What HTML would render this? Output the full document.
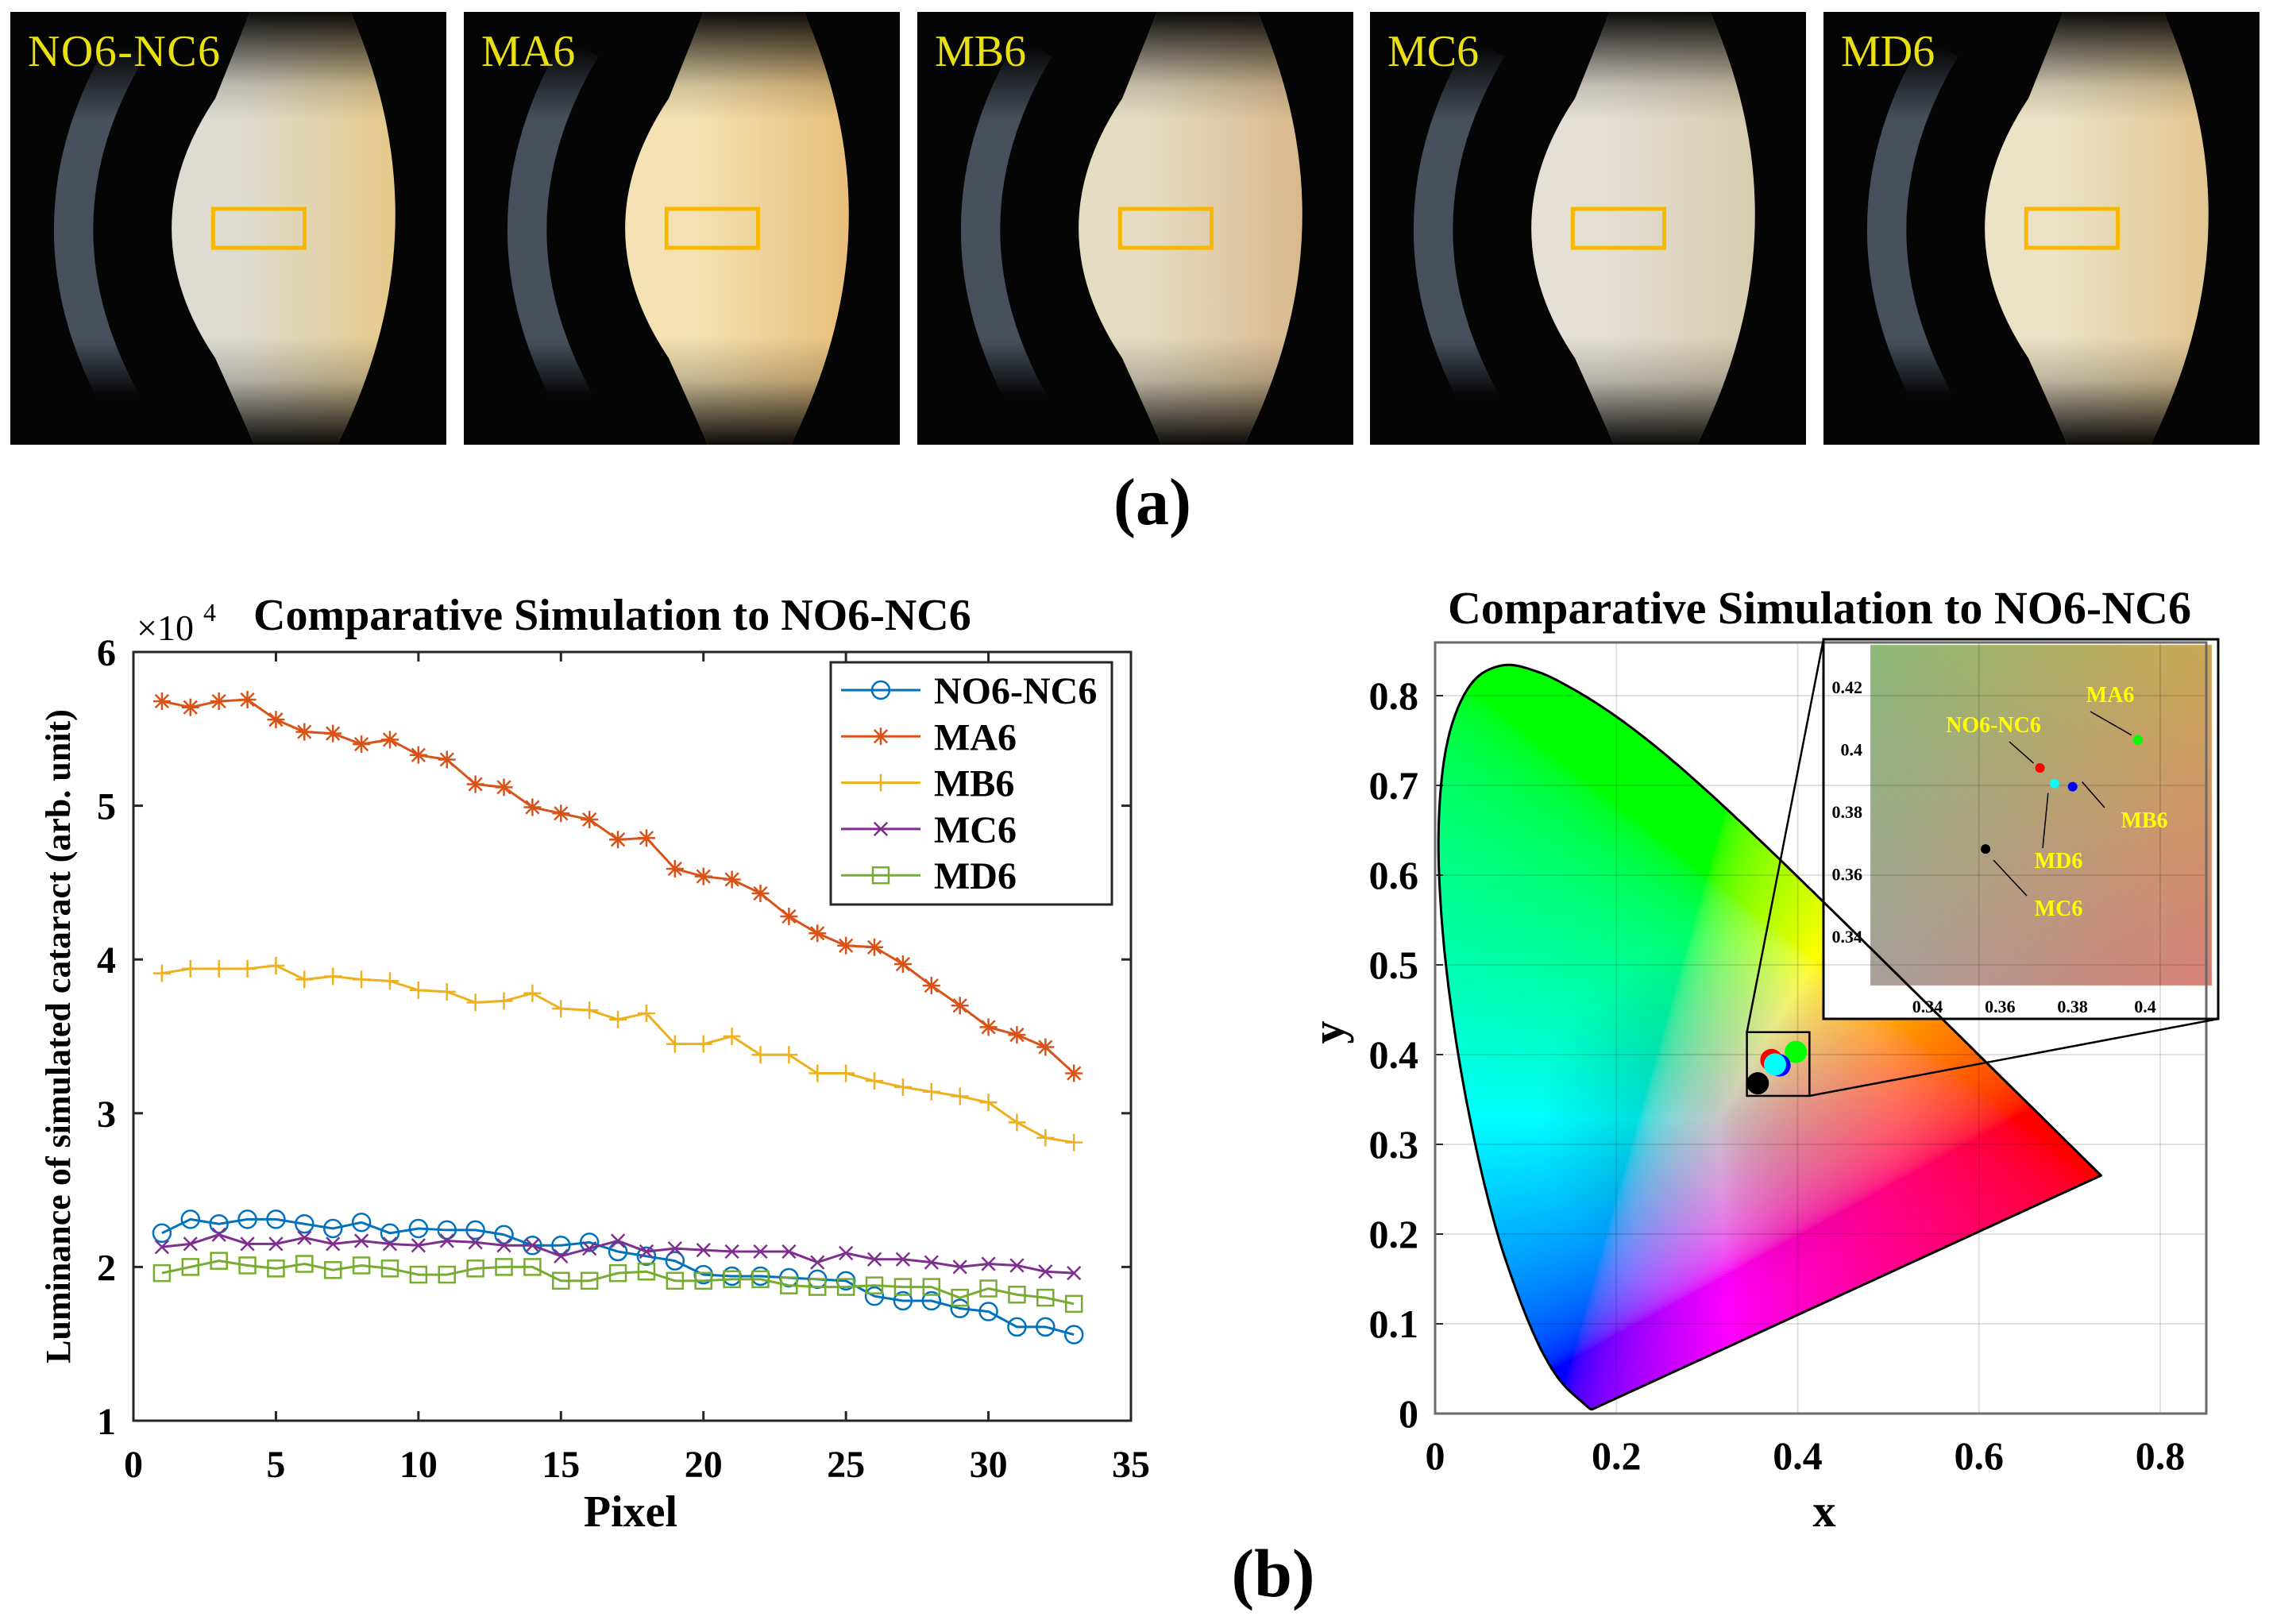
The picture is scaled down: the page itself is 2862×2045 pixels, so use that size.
<!DOCTYPE html>
<html><head><meta charset="utf-8">
<style>
html,body{margin:0;padding:0;background:#fff;}
#wrap{position:relative;width:2862px;height:2045px;overflow:hidden;background:#fff;}
canvas,svg{position:absolute;left:0;top:0;}
text{font-family:"Liberation Serif",serif;font-weight:bold;}
text.nb{font-weight:normal;}
</style></head>
<body>
<div id="wrap">
<canvas id="cv" width="2862" height="2045"></canvas>
<svg id="sv" width="2862" height="2045" xmlns="http://www.w3.org/2000/svg"></svg>
</div>
<script>
// ---- line chart data ----
const pixels = Array.from({length:33},(_,i)=>i+1);
const seriesNames = ["NO6-NC6","MA6","MB6","MC6","MD6"];
const no6 = [2.22,2.31,2.28,2.31,2.31,2.28,2.25,2.29,2.22,2.25,2.24,2.24,2.21,2.14,2.14,2.16,2.10,2.07,2.04,1.95,1.94,1.94,1.93,1.92,1.91,1.81,1.78,1.78,1.73,1.71,1.61,1.61,1.56];
const ma6 = [5.68,5.64,5.68,5.69,5.56,5.48,5.47,5.40,5.43,5.33,5.30,5.14,5.12,4.99,4.95,4.91,4.78,4.79,4.59,4.54,4.52,4.43,4.28,4.17,4.09,4.08,3.97,3.83,3.70,3.56,3.51,3.43,3.26];
const mb6 = [3.91,3.94,3.94,3.94,3.96,3.87,3.89,3.87,3.86,3.80,3.79,3.72,3.73,3.78,3.68,3.67,3.61,3.65,3.45,3.45,3.50,3.38,3.38,3.26,3.26,3.21,3.17,3.14,3.11,3.07,2.94,2.84,2.81];
const mc6 = [2.13,2.15,2.21,2.15,2.15,2.19,2.15,2.17,2.15,2.14,2.17,2.16,2.14,2.14,2.07,2.12,2.17,2.10,2.12,2.11,2.10,2.10,2.10,2.03,2.09,2.05,2.05,2.03,2.00,2.02,2.01,1.97,1.96];
const md6 = [1.96,2.00,2.04,2.01,1.99,2.02,1.98,2.01,1.99,1.95,1.95,1.99,2.00,2.00,1.91,1.91,1.96,1.97,1.91,1.91,1.92,1.92,1.88,1.87,1.87,1.88,1.87,1.87,1.80,1.86,1.82,1.80,1.76];
const xTicksL = [0,5,10,15,20,25,30,35];
const yTicksL = [1,2,3,4,5,6];
// ---- chromaticity data ----
const pointNames = ["MC6","NO6-NC6","MD6","MB6","MA6"];
const pointX = [0.356,0.371,0.375,0.380,0.398];
const pointY = [0.368,0.394,0.389,0.388,0.403];
const xTicksR = [0,0.2,0.4,0.6,0.8];
const yTicksR = [0,0.1,0.2,0.3,0.4,0.5,0.6,0.7,0.8];
const insetXTicks = [0.34,0.36,0.38,0.4];
const insetYTicks = [0.34,0.36,0.38,0.4,0.42];
const locusX = [0.1741,0.1740,0.1738,0.1736,0.1733,0.1730,0.1726,0.1721,0.1714,0.1703,0.1689,0.1669,0.1644,0.1611,0.1566,0.1510,0.1440,0.1355,0.1241,0.1096,0.0913,0.0687,0.0454,0.0235,0.0082,0.0039,0.0139,0.0389,0.0743,0.1142,0.1547,0.1929,0.2296,0.2658,0.3016,0.3373,0.3731,0.4087,0.4441,0.4788,0.5125,0.5448,0.5752,0.6029,0.6270,0.6482,0.6658,0.6801,0.6915,0.7079,0.7190,0.7260,0.7300,0.7334,0.7347];
const locusY = [0.0050,0.0050,0.0049,0.0049,0.0048,0.0048,0.0048,0.0048,0.0051,0.0058,0.0069,0.0086,0.0109,0.0138,0.0177,0.0227,0.0297,0.0399,0.0578,0.0868,0.1327,0.2007,0.2950,0.4127,0.5384,0.6548,0.7502,0.8120,0.8338,0.8262,0.8059,0.7816,0.7543,0.7243,0.6923,0.6589,0.6245,0.5896,0.5547,0.5202,0.4866,0.4544,0.4242,0.3965,0.3725,0.3514,0.3340,0.3197,0.3083,0.2920,0.2809,0.2740,0.2700,0.2666,0.2653];
const photoLabels = ["NO6-NC6","MA6","MB6","MC6","MD6"];

const NS="http://www.w3.org/2000/svg";
const sv=document.getElementById('sv');
function mk(tag,attrs,parent,txt){const e=document.createElementNS(NS,tag);for(const k in attrs)e.setAttribute(k,attrs[k]);if(txt!==undefined)e.textContent=txt;(parent||sv).appendChild(e);return e;}

// ===== Photos (a) =====
const photoX=[13,584,1155,1725,2296];
const tints=[["#dedcd0","#e6c98a"],["#f4e2b4","#e8bf7a"],["#e6dcc4","#d8b98c"],["#e4e0d4","#d8ccb0"],["#ece2c8","#e2c690"]];
const defs=mk('defs',{});
const vf=mk('linearGradient',{id:'vfade',x1:'0',y1:'0',x2:'0',y2:'1'},defs);
[['0','#000','0.95'],['0.17','#000','0.15'],['0.25','#000','0'],['0.75','#000','0'],['0.85','#000','0.2'],['1','#000','0.95']].forEach(s=>mk('stop',{offset:s[0],'stop-color':s[1],'stop-opacity':s[2]},vf));
const af=mk('linearGradient',{id:'afade',x1:'0',y1:'0',x2:'0',y2:'1'},defs);
[['0','#4e5866','0'],['0.2','#4e5866','0.9'],['0.8','#4e5866','0.9'],['0.95','#4e5866','0']].forEach(s=>mk('stop',{offset:s[0],'stop-color':s[1],'stop-opacity':s[2]},af));
photoX.forEach((px,i)=>{
  const w=549,h=545,y=15;
  const g=mk('linearGradient',{id:'lg'+i,x1:'0',y1:'0',x2:'1',y2:'0'},defs);
  mk('stop',{offset:'0','stop-color':tints[i][0]},g);
  mk('stop',{offset:'0.3','stop-color':tints[i][0]},g);
  mk('stop',{offset:'1','stop-color':tints[i][1]},g);
  const grp=mk('g',{});
  
  
  mk('rect',{x:px,y:y,width:w,height:h,fill:'#050505'},grp);
  mk('path',{d:`M${px+0.27*w},${y+0.08*h} Q${px+0.02*w},${y+0.5*h} ${px+0.27*w},${y+0.93*h}`,fill:'none',stroke:'url(#afade)','stroke-width':0.09*w},grp);
  const lens=`M${px+0.55*w},${y} L${px+0.47*w},${y+0.2*h} Q${px+0.27*w},${y+0.5*h} ${px+0.47*w},${y+0.8*h} L${px+0.56*w},${y+h} L${px+0.75*w},${y+h} Q${px+1.0*w},${y+0.5*h} ${px+0.78*w},${y} Z`;
  mk('path',{d:lens,fill:'url(#lg'+i+')'},grp);
  mk('path',{d:lens,fill:'url(#vfade)'},grp);
  mk('rect',{x:px+0.465*w,y:y+0.455*h,width:0.21*w,height:0.09*h,fill:'none',stroke:'#f8b800','stroke-width':5},grp);
  const t=mk('text',{x:px+22,y:y+68,'font-size':56,fill:'#e8e010',class:'nb'},grp,photoLabels[i]);
  if(i===0)t.setAttribute('textLength','242');
  
});
mk('text',{x:1451,y:660,'font-size':84,'text-anchor':'middle'},sv,'(a)');
mk('text',{x:1603,y:2010,'font-size':86,'text-anchor':'middle'},sv,'(b)');

// ===== Left line chart =====
const L={l:168,r:1424,t:821,b:1789};
const xL=v=>L.l+v*(L.r-L.l)/35;
const yL=v=>L.b-(v-1)*(L.b-L.t)/5;
const lc=mk('g',{});
mk('rect',{x:L.l,y:L.t,width:L.r-L.l,height:L.b-L.t,fill:'#fff',stroke:'#262626','stroke-width':3},lc);
xTicksL.forEach(v=>{
  mk('line',{x1:xL(v),x2:xL(v),y1:L.b,y2:L.b-12,stroke:'#262626','stroke-width':3},lc);
  mk('line',{x1:xL(v),x2:xL(v),y1:L.t,y2:L.t+12,stroke:'#262626','stroke-width':3},lc);
  mk('text',{x:xL(v),y:1860,'font-size':48,'text-anchor':'middle'},lc,String(v));
});
yTicksL.forEach(v=>{
  mk('line',{x1:L.l,x2:L.l+12,y1:yL(v),y2:yL(v),stroke:'#262626','stroke-width':3},lc);
  mk('line',{x1:L.r,x2:L.r-12,y1:yL(v),y2:yL(v),stroke:'#262626','stroke-width':3},lc);
  mk('text',{x:146,y:yL(v)+17,'font-size':48,'text-anchor':'end'},lc,String(v));
});
mk('text',{x:172,y:806,'font-size':46,class:'nb'},lc,'×10');
mk('text',{x:256,y:782,'font-size':32,class:'nb'},lc,'4');
mk('text',{x:319,y:793,'font-size':56},lc,'Comparative Simulation to NO6-NC6');
mk('text',{x:794,y:1922,'font-size':56,'text-anchor':'middle'},lc,'Pixel');
mk('text',{x:0,y:0,'font-size':44,'text-anchor':'middle',transform:'translate(88,1305) rotate(-90)'},lc,'Luminance of simulated cataract (arb. unit)');
const series=[no6,ma6,mb6,mc6,md6];
const colors=['#0072BD','#D95319','#EDB120','#7E2F8E','#77AC30'];
const markers=['o','*','+','x','s'];
function marker(type,cx,cy,col,parent){
  const s=11;
  if(type==='o')mk('circle',{cx,cy,r:s,fill:'none',stroke:col,'stroke-width':2.5},parent);
  else if(type==='s')mk('rect',{x:cx-s+1,y:cy-s+1,width:2*s-2,height:2*s-2,fill:'none',stroke:col,'stroke-width':2.5},parent);
  else{
    let d='';
    if(type==='+'||type==='*')d+=`M${cx-s},${cy}H${cx+s}M${cx},${cy-s}V${cy+s}`;
    if(type==='x'||type==='*'){const k=s*0.75;d+=`M${cx-k},${cy-k}L${cx+k},${cy+k}M${cx-k},${cy+k}L${cx+k},${cy-k}`;}
    mk('path',{d,stroke:col,'stroke-width':2.5,fill:'none'},parent);
  }
}
series.forEach((arr,si)=>{
  const g=mk('g',{},lc);
  
  
  mk('polyline',{points:arr.map((v,i)=>xL(pixels[i])+','+yL(v)).join(' '),fill:'none',stroke:colors[si],'stroke-width':3},g);
  arr.forEach((v,i)=>marker(markers[si],xL(pixels[i]),yL(v),colors[si],g));
});
const lg=mk('g',{},lc);
mk('rect',{x:1046,y:834,width:354,height:305,fill:'#fff',stroke:'#262626','stroke-width':3},lg);
seriesNames.forEach((n,i)=>{
  const yy=869+i*58.3;
  const e=mk('g',{},lg);
  mk('line',{x1:1059,x2:1159,y1:yy,y2:yy,stroke:colors[i],'stroke-width':3},e);
  marker(markers[i],1109,yy,colors[i],e);
  mk('text',{x:1176,y:yy+17,'font-size':48},e,n);
});

// ===== Right chromaticity chart =====
const R={l:1807,r:2778,t:809,b:1780};
const xR=v=>R.l+v*(2720-R.l)/0.8;
const yR=v=>R.b-v*(R.b-876)/0.8;
// smooth locus (Catmull-Rom through data points) in pixel space
function smoothLocus(){
  const P=locusX.map((v,i)=>[xR(v),yR(locusY[i])]);
  const out=[];const n=P.length;
  for(let i=0;i<n-1;i++){
    const p0=P[Math.max(0,i-1)],p1=P[i],p2=P[i+1],p3=P[Math.min(n-1,i+2)];
    for(let t=0;t<1;t+=0.125){
      const t2=t*t,t3=t2*t;
      out.push([0,1].map(k=>0.5*((2*p1[k])+(-p0[k]+p2[k])*t+(2*p0[k]-5*p1[k]+4*p2[k]-p3[k])*t2+(-p0[k]+3*p1[k]-3*p2[k]+p3[k])*t3)));
    }
  }
  out.push(P[n-1]);return out;
}
const LP=smoothLocus();
const cv=document.getElementById('cv');const ctx=cv.getContext('2d');
function xyToRGB(x,y){
  const X=x/y,Y=1,Z=(1-x-y)/y;
  let r=3.2406*X-1.5372*Y-0.4986*Z,g=-0.9689*X+1.8758*Y+0.0415*Z,b=0.0557*X-0.2040*Y+1.0570*Z;
  r=Math.max(r,0);g=Math.max(g,0);b=Math.max(b,0);
  const m=Math.max(r,g,b)||1;
  const d=Math.hypot(x-0.3127,y-0.329);
  const f=0.78+0.22*Math.min(1,d/0.2);
  const gm=c=>{c/=m;c=c<=0.0031308?12.92*c:1.055*Math.pow(c,1/2.4)-0.055;return Math.round(255*f*Math.min(1,c));};
  return `rgb(${gm(r)},${gm(g)},${gm(b)})`;
}
ctx.save();
ctx.beginPath();
LP.forEach((p,i)=>{i?ctx.lineTo(p[0],p[1]):ctx.moveTo(p[0],p[1]);});
ctx.closePath();ctx.clip();
const step=3;
for(let py=R.t;py<R.b;py+=step){for(let px=R.l;px<R.r;px+=step){
  const x=(px+1.5-R.l)*0.8/(2720-R.l),y=(R.b-py-1.5)*0.8/(R.b-876);
  if(y<=0.001)continue;
  ctx.fillStyle=xyToRGB(x,y);ctx.fillRect(px,py,step,step);
}}
ctx.restore();
const IX0=2355,IX1=2785,IY0=812,IY1=1241;
const TL=[140,184,120],TR=[204,168,84],BL=[168,160,152],BR=[216,128,120];
const img=ctx.createImageData(IX1-IX0,IY1-IY0);
for(let j=0;j<IY1-IY0;j++){const v=j/(IY1-IY0);for(let i=0;i<IX1-IX0;i++){const u=i/(IX1-IX0);const k=4*(j*(IX1-IX0)+i);
  for(let c=0;c<3;c++)img.data[k+c]=(1-u)*(1-v)*TL[c]+u*(1-v)*TR[c]+(1-u)*v*BL[c]+u*v*BR[c];img.data[k+3]=255;}}
const rc=mk('g',{});
xTicksR.forEach(v=>{
  mk('line',{x1:xR(v),x2:xR(v),y1:R.t,y2:R.b,stroke:'#000','stroke-opacity':0.12,'stroke-width':2},rc);
  mk('text',{x:xR(v),y:1850,'font-size':50,'text-anchor':'middle'},rc,String(v));
});
yTicksR.forEach(v=>{
  mk('line',{x1:R.l,x2:R.r,y1:yR(v),y2:yR(v),stroke:'#000','stroke-opacity':0.12,'stroke-width':2},rc);
  mk('line',{x1:R.l,x2:R.l+10,y1:yR(v),y2:yR(v),stroke:'#262626','stroke-width':2},rc);
  mk('text',{x:1786,y:yR(v)+17,'font-size':50,'text-anchor':'end'},rc,String(v));
});
mk('rect',{x:R.l,y:R.t,width:R.r-R.l,height:R.b-R.t,fill:'none',stroke:'#6a6a6a','stroke-width':3},rc);
mk('polygon',{points:LP.map(p=>p[0].toFixed(1)+','+p[1].toFixed(1)).join(' '),fill:'none',stroke:'#000','stroke-width':3,'stroke-linejoin':'round'},rc);
mk('text',{x:2291,y:785,'font-size':58,'text-anchor':'middle'},rc,'Comparative Simulation to NO6-NC6');
mk('text',{x:2297,y:1922,'font-size':58,'text-anchor':'middle'},rc,'x');
mk('text',{x:0,y:0,'font-size':58,'text-anchor':'middle',transform:'translate(1692,1300) rotate(-90)'},rc,'y');
const dotCols=['#000','#ff0000','#00ffff','#0000ff','#00ff00'];
const dotOrder=[0,4,1,3,2];
dotOrder.forEach(i=>{
  const c=mk('circle',{cx:xR(pointX[i]),cy:yR(pointY[i]),r:14,fill:dotCols[i]},rc);
  
});
const zx0=0.344,zx1=0.413,zy0=0.354,zy1=0.425;
mk('rect',{x:xR(zx0),y:yR(zy1),width:xR(zx1)-xR(zx0),height:yR(zy0)-yR(zy1),fill:'none',stroke:'#000','stroke-width':2.5},rc);
mk('line',{x1:xR(zx0),y1:yR(zy1),x2:2296,y2:805,stroke:'#000','stroke-width':2.5},rc);
mk('line',{x1:xR(zx1),y1:yR(zy0),x2:2793,y2:1283,stroke:'#000','stroke-width':2.5},rc);
const ins=mk('g',{},rc);
mk('rect',{x:2296,y:805,width:497,height:478,fill:'none',stroke:'#000','stroke-width':3},ins);
const xi=v=>2427+(v-0.34)*4567;
const yi=v=>865+(0.42-v)*3925;
ctx.fillStyle='#fff';ctx.fillRect(2296,805,497,478);
ctx.putImageData(img,IX0,IY0);
insetXTicks.forEach(v=>mk('text',{x:xi(v),y:1275,'font-size':22,'text-anchor':'middle'},ins,String(v)));
insetYTicks.forEach(v=>mk('text',{x:2345,y:yi(v)+8,'font-size':22,'text-anchor':'end'},ins,String(v)));
const labPos=[[2592,1153],[2510,922],[2592,1093],[2700,1042],[2657,884]];
dotOrder.forEach(i=>{
  const cx=xi(pointX[i]),cy=yi(pointY[i]);
  const [lx,ly]=labPos[i];
  mk('line',{x1:lx+(i===0?-40:i===1?20:i===2?-20:i===3?-50:-25),y1:ly+(i===1||i===4?12:-25),x2:cx+(i===3?12:i===0?10:-8),y2:cy+(i===0?14:i===2?12:-6),stroke:'#000','stroke-width':1.5},ins);
  mk('circle',{cx,cy,r:6,fill:dotCols[i]},ins);
  const t=mk('text',{x:lx,y:ly,'font-size':28,fill:'#ffff00','text-anchor':'middle'},ins,pointNames[i]);
  
});
</script>
</body></html>
